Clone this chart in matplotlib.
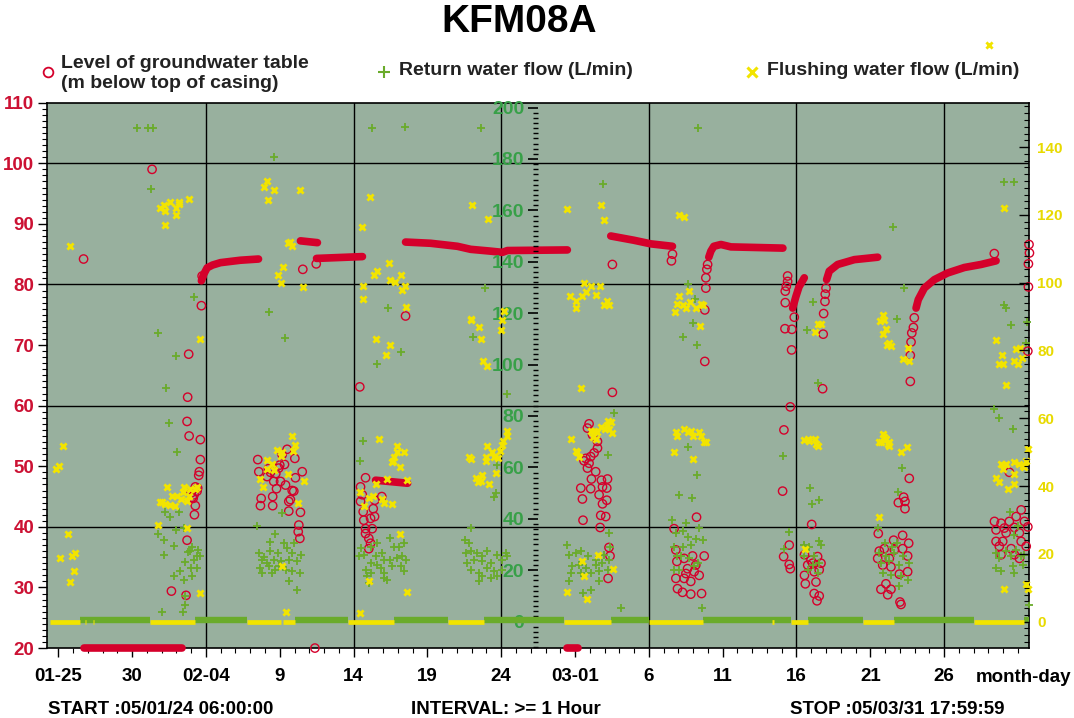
import numpy as np
import matplotlib
matplotlib.use('Agg')
import matplotlib.pyplot as plt
from matplotlib.ticker import MultipleLocator, FixedLocator
from matplotlib.lines import Line2D

plt.rcParams['font.family'] = ['Liberation Sans', 'DejaVu Sans']
plt.rcParams['font.weight'] = 'bold'

# x values are day of year 2005 (Jan 1 = 1), start 05/01/24 06:00 -> 24.25
tick_days = [25, 30, 35, 40, 45, 50, 55, 60, 65, 70, 75, 80, 85]
tick_labels = ["01-25", "30", "02-04", "9", "14", "19", "24", "03-01", "6", "11", "16", "21", "26"]

# groundwater level (m below top of casing), single readings
level_pts = [
    (26.71, 84.2), (31.35, 99.0),
    (34.74, 81.4), (34.69, 76.5), (33.83, 68.5), (33.76, 61.4), (33.72, 57.4), (33.86, 55.0),
    (34.62, 54.4), (34.62, 51.1), (34.55, 49.1), (34.51, 48.5), (34.44, 46.4), (34.13, 44.7),
    (34.28, 43.5), (34.22, 42.0), (33.72, 37.8), (32.66, 29.4), (33.65, 28.7), (34.00, 45.6),
    (34.20, 45.3), (34.40, 45.9), (34.07, 44.9), (34.28, 46.6),
    (38.51, 51.1), (38.58, 49.1), (39.14, 48.3), (39.59, 47.5), (40.05, 47.5), (40.50, 52.8),
    (41.02, 51.3), (41.52, 49.1), (41.06, 48.1), (38.74, 44.7), (38.69, 43.5), (39.52, 45.0),
    (39.52, 43.5), (39.78, 46.3), (40.39, 46.9), (40.61, 44.2), (40.95, 45.9), (40.61, 42.6),
    (41.40, 42.4), (41.29, 40.3), (41.25, 39.2), (41.36, 38.1), (39.73, 48.8), (40.00, 50.2),
    (40.16, 51.9), (39.93, 49.7), (39.37, 49.0), (39.23, 49.6), (40.72, 44.5), (40.84, 46.0),
    (40.32, 50.3),
    (41.56, 82.5), (42.47, 83.4), (42.38, 20.0), (45.42, 63.1),
    (45.47, 46.6), (45.81, 48.1), (45.59, 45.3), (45.47, 44.2), (45.65, 42.5), (45.69, 41.1),
    (45.81, 39.7), (46.03, 38.1), (46.03, 36.4), (46.33, 43.0), (46.42, 41.7), (46.15, 41.4),
    (46.26, 39.7), (45.81, 38.9), (46.15, 37.3), (46.91, 45.0), (46.44, 44.4),
    (48.52, 74.8),
    (60.95, 57.0), (60.84, 56.3), (61.18, 55.2), (61.52, 53.0), (61.29, 52.2), (61.06, 51.6),
    (60.73, 51.3), (60.61, 50.9), (60.95, 50.5), (60.84, 49.7), (61.40, 49.1), (61.11, 47.9),
    (61.79, 47.7), (62.20, 47.9), (60.39, 46.4), (61.06, 46.3), (61.86, 46.6), (62.15, 46.4),
    (60.50, 44.6), (61.63, 45.3), (62.15, 44.4), (61.86, 43.8), (61.74, 41.9), (62.08, 41.7),
    (60.54, 41.1), (61.70, 39.9), (62.30, 36.6), (62.37, 35.2), (62.24, 31.5), (61.52, 54.1),
    (62.53, 83.3), (62.53, 62.2), (66.60, 85.0), (66.53, 83.9),
    (68.86, 79.4), (68.86, 81.1), (68.93, 82.5), (68.98, 83.3), (68.79, 75.8), (68.79, 67.3),
    (66.71, 39.7), (66.83, 36.2), (66.90, 34.3), (66.83, 31.5), (66.94, 29.8), (67.39, 34.8),
    (67.96, 35.2), (68.75, 35.2), (67.62, 33.1), (68.18, 33.7), (68.41, 32.0), (67.39, 31.5),
    (67.84, 31.0), (67.28, 29.2), (67.84, 28.9), (68.57, 29.0), (68.07, 32.6), (67.51, 32.3),
    (68.23, 41.6),
    (74.40, 81.4), (74.40, 80.5), (74.31, 79.7), (74.24, 78.9), (74.24, 77.0), (74.22, 72.7),
    (74.15, 56.0), (74.58, 59.8), (74.06, 45.9), (74.69, 72.6), (74.67, 69.2), (74.85, 74.6),
    (74.51, 37.0), (74.13, 35.1), (74.51, 33.8), (74.58, 33.1), (76.03, 40.4),
    (75.54, 35.4), (75.98, 34.5), (75.76, 33.7), (76.66, 34.0), (76.20, 32.6), (76.54, 32.9),
    (75.54, 32.0), (75.60, 30.6), (76.32, 30.9), (76.20, 29.0), (76.54, 28.6), (76.39, 27.8),
    (76.09, 34.0), (76.43, 35.1),
    (76.81, 71.8), (76.84, 75.2), (76.93, 77.2), (76.95, 78.4), (77.00, 79.4), (76.77, 62.8),
    (82.64, 48.0), (82.26, 44.9), (81.90, 44.0), (82.35, 44.2), (82.35, 43.0), (80.54, 38.9),
    (82.19, 38.6), (81.58, 37.8), (82.60, 37.3), (80.95, 36.4), (81.63, 36.2), (82.19, 36.4),
    (80.50, 34.8), (82.53, 35.2), (80.84, 33.7), (81.40, 33.4), (81.97, 32.2), (82.53, 32.6),
    (81.06, 30.6), (80.72, 29.7), (81.40, 29.7), (81.18, 28.8), (82.01, 27.6), (82.08, 27.2),
    (80.61, 36.0), (81.29, 34.8),
    (82.71, 64.0), (82.71, 68.3), (82.76, 70.5), (82.81, 72.0), (82.92, 72.9), (82.98, 74.5),
    (88.40, 85.1),
    (90.22, 42.8), (89.88, 41.7), (88.41, 40.9), (88.86, 40.6), (89.42, 40.9), (90.44, 40.9),
    (88.52, 39.5), (89.08, 39.8), (89.76, 39.9), (90.67, 40.0), (89.20, 39.0), (90.10, 39.0),
    (88.52, 37.6), (88.97, 37.6), (90.22, 37.6), (88.74, 36.8), (89.54, 36.4), (90.56, 36.8),
    (88.86, 35.4), (89.76, 35.4), (90.10, 34.8), (89.42, 49.0),
    (90.75, 86.6), (90.78, 85.2), (90.71, 83.4), (90.71, 79.6), (90.67, 69.0),
]

# groundwater level, hourly runs that merge into a band
level_runs = [
    [(34.69, 80.6), (34.83, 81.6), (35.08, 82.75), (35.44, 83.2), (35.98, 83.6), (37.33, 84.0), (38.56, 84.2)],
    [(41.40, 87.2), (42.55, 86.9)],
    [(42.49, 84.3), (45.60, 84.6)],
    [(46.49, 47.7), (48.66, 47.2)],
    [(48.52, 87.0), (50.22, 86.8), (52.03, 86.3), (52.93, 85.8), (54.28, 85.5), (55.08, 85.3), (55.42, 85.6), (59.48, 85.7)],
    [(62.42, 88.0), (63.98, 87.3), (65.14, 86.7), (66.60, 86.3)],
    [(69.06, 84.5), (69.20, 85.5), (69.40, 86.3), (69.88, 86.6), (70.56, 86.2), (74.08, 86.0)],
    [(74.74, 76.1), (74.96, 78.0), (75.17, 79.6), (75.53, 81.1)],
    [(77.04, 80.8), (77.22, 82.2), (77.79, 83.3), (78.92, 84.1), (80.50, 84.5)],
    [(83.10, 76.1), (83.25, 77.5), (83.66, 79.4), (84.34, 80.8), (85.24, 81.9), (86.37, 82.8), (87.50, 83.3), (88.52, 83.9)],
]
# periods with level at/below 20 m (drawn on the bottom edge)
level_low_start = [26.75, 59.45]
level_low_end = [33.40, 60.20]

# return water flow (L/min)
return_pts = [
    (30.35, 192.2), (31.10, 192.2), (31.44, 192.2), (31.30, 168.5), (39.59, 180.7), (46.22, 192.2),
    (48.45, 192.6), (53.60, 192.2), (68.32, 192.2), (61.90, 170.1), (81.52, 153.5), (89.08, 171.0),
    (89.72, 171.0),
    (34.17, 126.3), (31.73, 112.3), (32.98, 103.4), (32.32, 90.7), (32.47, 77.4), (39.25, 120.3),
    (40.34, 110.2), (45.65, 70.4), (53.90, 129.6), (47.35, 122.1), (53.11, 110.8), (48.18, 104.7),
    (46.60, 100.4), (55.37, 88.4), (62.64, 81.0), (45.42, 62.6), (62.20, 64.8), (54.74, 61.0),
    (54.62, 50.0), (54.51, 48.4), (67.66, 131.5), (68.11, 125.7), (67.96, 116.0), (68.25, 107.6),
    (67.28, 110.8), (82.30, 129.8), (76.09, 124.4), (75.71, 113.4), (81.81, 117.9), (76.43, 92.9),
    (89.04, 123.1), (89.20, 122.0), (89.54, 115.3), (90.60, 116.4), (90.56, 108.5), (88.41, 82.6),
    (88.75, 79.1), (89.65, 74.8), (67.62, 68.1), (33.04, 66.1), (68.25, 57.1), (67.89, 48.0),
    (67.05, 49.3), (74.06, 64.5), (75.93, 51.9), (76.54, 47.4), (76.03, 45.8), (82.13, 59.7),
    (81.90, 50.6), (89.49, 42.8), (38.47, 37.0), (40.16, 42.2),
    (32.25, 42.8), (32.59, 40.7), (33.15, 42.5), (31.73, 34.2), (33.00, 35.7), (33.49, 36.4),
    (32.13, 31.8), (32.81, 29.6), (32.13, 26.0), (33.94, 27.3), (34.40, 25.6), (34.62, 25.4),
    (34.17, 24.1), (33.61, 23.2), (34.00, 20.9), (34.40, 20.9), (33.27, 19.5), (32.81, 17.9),
    (33.49, 16.3), (34.06, 17.6), (32.03, 3.8), (33.45, 3.8), (33.61, 9.8), (33.61, 6.3),
    (34.08, 29.1), (33.81, 27.2), (34.49, 28.0),
    (39.71, 34.0), (39.37, 30.9), (40.27, 30.6), (40.99, 30.6), (38.58, 26.7), (39.37, 27.3),
    (39.86, 26.7), (40.50, 28.6), (41.47, 26.0), (38.81, 24.1), (39.15, 22.8), (39.59, 24.1),
    (40.05, 23.4), (40.61, 24.1), (41.18, 23.4), (38.69, 20.9), (39.25, 21.5), (39.71, 20.2),
    (40.39, 20.2), (40.84, 19.5), (41.40, 18.9), (38.81, 18.9), (39.48, 18.9), (40.61, 15.6),
    (41.18, 12.4), (38.96, 25.2), (39.98, 21.7), (40.86, 26.8),
    (45.47, 28.6), (45.69, 26.0), (45.36, 25.4), (46.15, 29.2), (46.60, 30.6), (46.49, 25.4),
    (46.94, 26.7), (47.50, 32.5), (47.73, 29.2), (48.07, 29.2), (48.41, 30.6), (47.05, 24.1),
    (47.50, 24.1), (47.96, 24.7), (48.52, 24.1), (46.15, 22.8), (46.60, 22.1), (45.81, 20.2),
    (46.15, 18.9), (46.83, 20.9), (47.05, 18.9), (47.62, 21.5), (48.18, 21.5), (48.41, 19.5),
    (45.92, 17.6), (47.05, 17.0), (47.28, 16.3), (46.03, 15.0), (48.30, 25.4),
    (52.59, 26.7), (52.93, 27.3), (53.38, 26.7), (53.72, 25.4), (54.06, 27.3), (54.74, 26.0),
    (55.30, 26.7), (52.71, 22.8), (53.15, 24.1), (53.72, 23.4), (54.28, 22.8), (55.08, 24.1),
    (52.93, 20.2), (53.49, 18.9), (54.06, 20.9), (54.51, 19.5), (55.08, 20.2), (53.72, 17.6),
    (54.28, 17.0), (54.74, 17.6), (55.42, 25.4), (52.93, 36.4), (52.54, 31.8), (52.81, 30.6),
    (53.49, 15.6),
    (59.48, 29.9), (59.59, 26.0), (60.05, 26.7), (60.39, 27.3), (60.88, 25.4), (61.40, 24.1),
    (61.97, 26.0), (59.82, 21.5), (60.27, 22.1), (60.73, 20.9), (61.40, 22.1), (61.86, 22.8),
    (62.30, 24.1), (59.71, 18.9), (60.39, 18.9), (61.06, 18.9), (61.63, 19.5), (62.20, 20.2),
    (59.59, 15.6), (61.63, 15.6), (62.35, 29.2), (61.06, 12.4), (60.54, 11.1), (62.30, 34.4),
    (63.10, 5.1),
    (66.60, 39.6), (66.83, 34.4), (66.71, 29.2), (66.94, 25.4), (66.67, 20.2), (67.05, 20.2),
    (67.51, 38.3), (67.28, 35.1), (68.41, 36.4), (67.62, 33.1), (68.18, 32.1), (68.64, 31.8),
    (67.28, 29.2), (67.84, 29.9), (67.17, 25.4), (67.73, 24.7), (68.30, 22.8), (68.07, 21.5),
    (68.63, 5.1),
    (74.47, 34.7), (74.13, 28.2), (75.54, 29.9), (75.88, 29.2), (76.54, 31.2), (76.66, 29.9),
    (75.54, 25.4), (76.20, 25.4), (76.09, 22.1), (76.43, 18.9), (75.76, 20.2), (76.54, 22.8),
    (80.54, 36.4), (80.99, 30.6), (81.45, 29.2), (81.81, 30.6), (80.61, 26.7), (81.06, 25.4),
    (81.63, 26.7), (82.19, 25.4), (80.72, 22.8), (81.29, 23.4), (81.97, 22.1), (82.64, 22.8),
    (80.84, 18.9), (81.40, 18.3), (82.08, 17.6), (82.53, 16.3), (81.97, 13.7),
    (88.52, 26.7), (89.20, 27.3), (89.76, 33.8), (89.88, 28.0), (90.22, 25.4), (88.75, 24.7),
    (89.54, 25.4), (90.44, 26.0), (88.52, 20.9), (88.86, 19.5), (89.65, 21.5), (89.76, 18.9),
    (90.32, 22.1), (90.78, 6.6), (90.00, 37.0),
]
# periods of (near) zero return flow
return_zero_start = [26.49, 34.28, 41.00, 47.71, 53.81, 62.42, 68.70, 75.80, 81.60, 90.40]
return_zero_end = [31.23, 37.81, 44.59, 51.37, 59.23, 65.01, 74.60, 79.50, 87.00, 90.75]

# flushing water flow (L/min)
flush_pts = [
    (25.81, 110.8), (25.29, 51.9), (25.02, 46.0), (24.86, 45.0), (25.65, 25.8), (25.13, 18.9),
    (25.92, 19.3), (26.10, 20.3), (26.03, 14.9), (25.76, 11.8),
    (31.86, 122.0), (32.13, 122.8), (32.59, 123.9), (32.25, 121.2), (32.98, 122.0), (33.15, 123.9),
    (33.15, 123.1), (33.88, 124.7), (32.98, 120.0), (32.25, 117.0),
    (32.37, 39.6), (32.70, 37.1), (33.04, 37.1), (33.49, 39.6), (33.45, 38.1), (33.94, 39.1),
    (34.28, 39.1), (34.40, 39.6), (33.83, 37.1), (31.91, 35.3), (32.05, 35.2), (32.25, 34.6),
    (32.54, 34.3), (32.88, 34.0), (33.33, 36.3), (33.72, 35.6), (31.73, 28.4), (33.72, 27.5),
    (34.58, 8.3), (34.58, 83.5),
    (39.14, 129.9), (38.96, 128.2), (39.59, 127.4), (39.21, 124.4), (41.36, 127.4), (40.68, 112.1),
    (40.84, 110.8), (40.20, 104.5), (39.91, 102.4), (40.11, 99.8), (41.54, 98.7), (40.59, 111.6),
    (40.84, 54.7), (41.00, 52.2), (39.82, 50.7), (40.16, 49.9), (40.91, 50.4), (40.05, 48.8),
    (39.14, 47.7), (39.48, 46.5), (39.59, 44.8), (39.14, 45.0), (40.54, 43.5), (38.69, 42.0),
    (38.87, 39.6), (41.63, 41.5), (41.25, 35.1), (40.16, 16.4), (40.45, 2.9),
    (46.10, 125.4), (45.54, 116.5), (47.39, 105.7), (46.38, 102.4), (46.60, 103.4), (47.46, 100.9),
    (47.80, 100.3), (48.23, 102.4), (45.65, 99.0), (48.47, 99.0), (48.25, 97.8), (45.63, 95.1),
    (48.52, 92.7), (46.53, 83.3), (47.44, 81.5), (47.17, 78.8),
    (46.71, 53.9), (47.91, 51.9), (47.91, 50.1), (48.41, 49.9), (47.73, 48.5), (47.69, 47.5),
    (47.62, 47.0), (48.13, 45.5), (46.49, 40.6), (47.28, 42.0), (48.64, 41.8), (45.42, 38.1),
    (46.03, 36.6), (46.33, 37.1), (46.94, 36.1), (47.05, 35.1), (47.62, 34.6), (45.69, 34.1),
    (48.13, 25.8), (46.03, 11.9), (48.64, 8.7), (45.42, 2.6),
    (53.04, 122.9), (54.10, 118.8), (52.97, 89.4), (52.97, 88.9), (53.49, 86.9), (53.61, 83.5),
    (53.76, 77.0), (54.06, 75.4), (55.19, 91.6), (55.03, 88.9), (55.01, 86.1),
    (55.37, 56.3), (55.42, 54.7), (55.15, 53.4), (55.08, 52.1), (54.89, 50.4), (54.01, 51.9),
    (54.40, 49.9), (54.51, 48.5), (54.78, 48.2), (53.94, 48.5), (53.94, 47.5), (52.81, 48.5),
    (52.97, 48.0), (54.62, 43.8), (53.72, 43.2), (53.49, 42.2), (53.27, 42.5), (53.61, 41.5),
    (53.43, 41.2), (54.17, 40.6),
    (59.44, 121.7), (61.79, 122.8), (61.97, 118.5), (60.61, 99.8), (61.11, 99.1), (61.70, 99.1),
    (60.73, 97.1), (61.40, 96.3), (59.64, 96.0), (60.09, 94.6), (60.50, 96.0), (62.15, 94.5),
    (62.30, 93.3), (61.97, 93.3), (60.09, 92.6), (60.43, 68.9),
    (59.71, 53.9), (60.05, 50.4), (60.16, 49.9), (60.27, 48.5), (61.06, 56.3), (61.29, 56.3),
    (61.47, 55.9), (61.74, 57.3), (62.01, 56.8), (62.24, 59.3), (62.42, 58.8), (62.30, 56.8),
    (62.53, 55.6), (62.15, 58.0), (61.25, 54.4), (61.40, 53.9), (61.56, 19.8), (60.50, 17.8),
    (60.61, 13.6), (62.56, 15.6), (59.44, 8.7), (60.79, 6.7),
    (67.05, 120.0), (67.35, 119.5), (67.05, 96.0), (66.76, 91.4), (66.94, 93.6), (67.73, 97.5),
    (67.28, 93.3), (67.51, 92.4), (67.80, 94.3), (68.18, 92.6), (68.52, 93.8), (68.64, 93.3),
    (68.47, 87.1),
    (66.83, 55.9), (66.90, 54.7), (66.67, 50.1), (67.39, 56.8), (67.62, 55.8), (67.96, 54.7),
    (68.41, 55.8), (68.52, 54.7), (68.71, 53.1), (67.96, 47.9), (67.84, 56.3), (68.86, 52.9),
    (76.43, 87.9), (76.66, 87.9), (76.25, 85.5), (75.54, 53.7), (75.88, 53.4), (76.25, 53.9),
    (76.43, 51.9), (75.76, 53.9), (76.32, 52.4), (75.60, 21.3),
    (80.84, 90.4), (80.95, 88.9), (80.68, 88.7), (81.06, 86.4), (80.88, 85.0), (81.13, 81.7),
    (81.40, 81.3), (81.29, 82.3), (82.19, 77.6), (82.64, 77.0), (82.53, 80.7),
    (80.84, 55.4), (81.06, 53.9), (80.72, 53.1), (81.29, 52.9), (81.29, 51.9), (82.08, 49.9),
    (82.49, 51.4), (80.61, 31.0), (80.95, 54.4), (80.61, 52.9), (81.18, 52.4),
    (89.04, 122.0), (88.52, 83.0), (88.90, 78.7), (88.75, 76.1), (88.97, 76.1), (89.72, 77.0),
    (89.88, 80.5), (90.15, 80.7), (90.26, 77.8), (89.99, 76.1), (89.20, 69.9), (88.05, 170.2),
    (88.86, 46.5), (89.20, 46.5), (89.76, 47.0), (90.10, 46.5), (90.33, 46.0), (90.44, 45.5),
    (90.56, 47.5), (88.97, 45.0), (89.72, 43.5), (88.52, 42.5), (88.75, 41.1), (89.76, 40.6),
    (89.31, 39.1), (90.67, 50.9), (89.04, 9.5), (90.56, 11.0), (90.67, 9.5),
]
# periods of zero flushing flow
flush_zero_start = [24.45, 26.83, 27.37, 31.23, 37.81, 40.25, 44.59, 51.37, 59.23, 65.01, 73.35, 74.60, 79.50, 87.00]
flush_zero_end = [26.49, 26.90, 27.44, 34.28, 40.05, 41.06, 47.71, 53.81, 62.42, 68.70, 73.45, 75.80, 81.60, 90.40]

RED = '#d5002b'
GREEN = '#6aab2b'
YELLOW = '#f2e400'

fig = plt.figure(figsize=(10.74, 7.18), dpi=100)
ax = fig.add_axes([0.0440, 0.0974, 0.9141, 0.7596])
ax.set_facecolor('#98b09e')
ax.set_xlim(24.25, 90.75)
ax.set_ylim(20, 110)

for d in [35, 45, 55, 65, 75, 85]:
    ax.axvline(d, color='black', lw=1.0, zorder=1)
for v in [40, 60, 80, 100]:
    ax.axhline(v, color='black', lw=1.0, zorder=1)

# groundwater level
for run in level_runs:
    r = np.array(run)
    ax.plot(r[:, 0], r[:, 1], color=RED, lw=5.5, solid_capstyle='round', zorder=3)
ax.hlines([20] * len(level_low_start), level_low_start, level_low_end, color=RED, lw=5.5,
          capstyle='round', clip_on=False, zorder=3)
lp = np.array(level_pts)
ax.scatter(lp[:, 0], lp[:, 1], marker='o', facecolors='none', edgecolors=RED, s=36,
           linewidths=1.0, clip_on=False, zorder=4)

ax.xaxis.set_major_locator(FixedLocator(tick_days))
ax.set_xticklabels(tick_labels)
ax.xaxis.set_minor_locator(MultipleLocator(1))
ax.tick_params(axis='x', which='major', direction='out', length=6.5, width=1.0, pad=8, labelsize=13.5)
ax.tick_params(axis='x', which='minor', direction='out', length=3.6, width=0.8)
ax.yaxis.set_major_locator(FixedLocator(range(20, 111, 10)))
ax.yaxis.set_minor_locator(MultipleLocator(1))
ax.tick_params(axis='y', which='major', direction='out', length=6.5, width=1.0, pad=3,
               labelsize=13.5, labelcolor='#cc1133')
ax.tick_params(axis='y', which='minor', direction='out', length=3.6, width=0.8)
for s in ax.spines.values():
    s.set_linewidth(1.2)

# return water flow on middle axis
ax2 = ax.twinx()
ax2.set_ylim(-10.3, 201.9)
ax2.hlines([0.5] * len(return_zero_start), return_zero_start, return_zero_end, color=GREEN, lw=4.6)
rp = np.array(return_pts)
ax2.scatter(rp[:, 0], rp[:, 1], marker='+', color=GREEN, s=40, linewidths=1.3, clip_on=False)
for s in ax2.spines.values():
    s.set_visible(False)
ax2.yaxis.set_ticks_position('left')
ax2.yaxis.set_label_position('left')
ax2.spines['left'].set_position(('axes', 0.5))
ax2.yaxis.set_major_locator(FixedLocator(range(0, 201, 20)))
ax2.yaxis.set_minor_locator(MultipleLocator(2))
ax2.tick_params(axis='y', which='major', direction='out', length=7, width=1.2, pad=3,
                labelsize=14, labelcolor='#38a048')
ax2.tick_params(axis='y', which='minor', direction='out', length=3.6, width=1.0)

# flushing water flow on right axis
ax3 = ax.twinx()
ax3.set_ylim(-7.8, 153.1)
ax3.hlines([0] * len(flush_zero_start), flush_zero_start, flush_zero_end, color=YELLOW, lw=3.4)
fp = np.array(flush_pts)
ax3.scatter(fp[:, 0], fp[:, 1], marker='x', color=YELLOW, s=20, linewidths=2.0, clip_on=False)
for s in ax3.spines.values():
    s.set_visible(False)
ax3.yaxis.set_major_locator(FixedLocator(range(0, 141, 20)))
ax3.yaxis.set_minor_locator(MultipleLocator(2))
ax3.tick_params(axis='y', which='major', direction='in', length=7, width=1.0, pad=6,
                labelsize=11, labelcolor='#e8da00')
ax3.tick_params(axis='y', which='minor', direction='in', length=3.6, width=0.8)

# titles and legend
fig.text(0.4832, 0.9687, "KFM08A", ha='center', va='center', fontsize=28)
fig.add_artist(Line2D([0.0449], [0.9003], marker='o', markersize=7, markerfacecolor='none',
                      markeredgecolor=RED, markeredgewidth=1.3, transform=fig.transFigure))
fig.text(0.0571, 0.898, "Level of groundwater table\n(m below top of casing)", ha='left',
         va='center', fontsize=14, linespacing=1.2, color='#222222')
fig.add_artist(Line2D([0.3575], [0.8993], marker='+', markersize=9, color=GREEN,
                      markeredgewidth=1.5, transform=fig.transFigure))
fig.text(0.3719, 0.9017, "Return water flow (L/min)", ha='left', va='center', fontsize=14, color='#222222')
fig.add_artist(Line2D([0.7002], [0.8994], marker='x', markersize=6.5, color=YELLOW,
                      markeredgewidth=2.2, transform=fig.transFigure))
fig.text(0.7142, 0.9017, "Flushing water flow (L/min)", ha='left', va='center', fontsize=14, color='#222222')

fig.text(0.9534, 0.0564, "month-day", ha='center', va='center', fontsize=13.5)
fig.text(0.0449, 0.0125, "START :05/01/24 06:00:00", ha='left', va='center', fontsize=13.5)
fig.text(0.3831, 0.0125, "INTERVAL: >= 1 Hour", ha='left', va='center', fontsize=13.5)
fig.text(0.7358, 0.0125, "STOP :05/03/31 17:59:59", ha='left', va='center', fontsize=13.5)

fig.savefig('out.png', dpi=100)
